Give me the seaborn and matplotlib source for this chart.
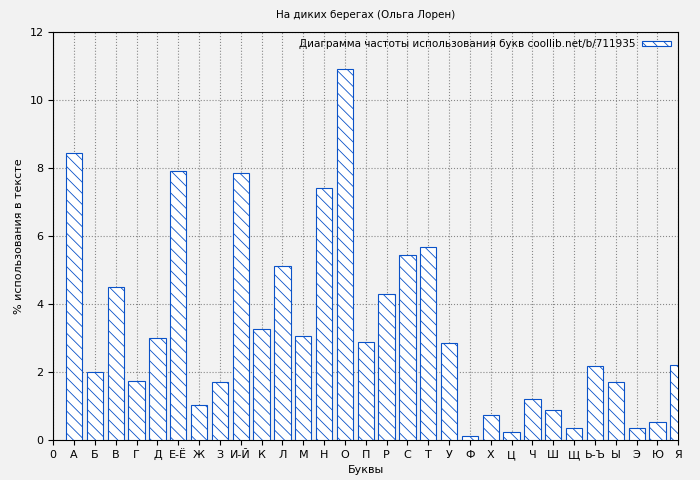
import matplotlib
matplotlib.use("Agg")
import matplotlib.pyplot as plt
import matplotlib.patches as mpatches
import numpy as np
import seaborn as sns

letters = ["А", "Б", "В", "Г", "Д", "Е-Ё", "Ж", "З", "И-Й", "К", "Л", "М", "Н", "О", "П",
           "Р", "С", "Т", "У", "Ф", "Х", "Ц", "Ч", "Ш", "Щ", "Ь-Ъ", "Ы", "Э", "Ю", "Я"]
freq = [8.45, 2.0, 4.5, 1.75, 3.0, 7.92, 1.02, 1.7, 7.85, 3.27, 5.12, 3.05, 7.42, 10.92, 2.9,
        4.3, 5.45, 5.68, 2.87, 0.13, 0.75, 0.25, 1.2, 0.88, 0.35, 2.17, 1.7, 0.37, 0.52, 2.2]

pos = np.arange(1, len(letters) + 1)
bg = "#f2f2f2"
blue = "#0a52c8"
plt.rcParams["hatch.color"] = blue
plt.rcParams["hatch.linewidth"] = 0.6

fig, ax = plt.subplots(figsize=(7, 4.8), dpi=100)
fig.patch.set_facecolor(bg)
ax.set_facecolor(bg)

sns.barplot(x=pos, y=freq, native_scale=True, width=0.78, color="white",
            edgecolor=blue, linewidth=0.8, ax=ax, zorder=3)
for p in ax.patches:
    p.set_hatch("\\\\\\")
    p.set_facecolor("white")

ax.set_xlim(0, 30)
ax.set_ylim(0, 12)
ax.set_xticks(np.arange(0, 31))
ax.set_xticklabels(["0"] + letters, fontsize=8)
ax.set_yticks(np.arange(0, 13, 2))
ax.tick_params(axis="y", labelsize=8)
ax.grid(True, color="#888888", linestyle=":", linewidth=0.8, zorder=0)
ax.set_axisbelow(True)
ax.set_xlabel("Буквы", fontsize=8)
ax.set_ylabel("% использования в тексте", fontsize=8)
ax.set_title("На диких берегах (Ольга Лорен)", fontsize=7.5, pad=10)

handle = mpatches.Patch(facecolor="white", edgecolor=blue, hatch="\\\\\\", linewidth=0.8)
ax.legend([handle], ["Диаграмма частоты использования букв coollib.net/b/711935"],
          loc="upper right", fontsize=7.5, frameon=False, markerfirst=False,
          handlelength=2.8, handleheight=0.4, borderaxespad=0.3, handletextpad=0.6)

plt.subplots_adjust(left=0.076, right=0.969, top=0.933, bottom=0.083)
fig.savefig("out.png", dpi=100, facecolor=bg)
